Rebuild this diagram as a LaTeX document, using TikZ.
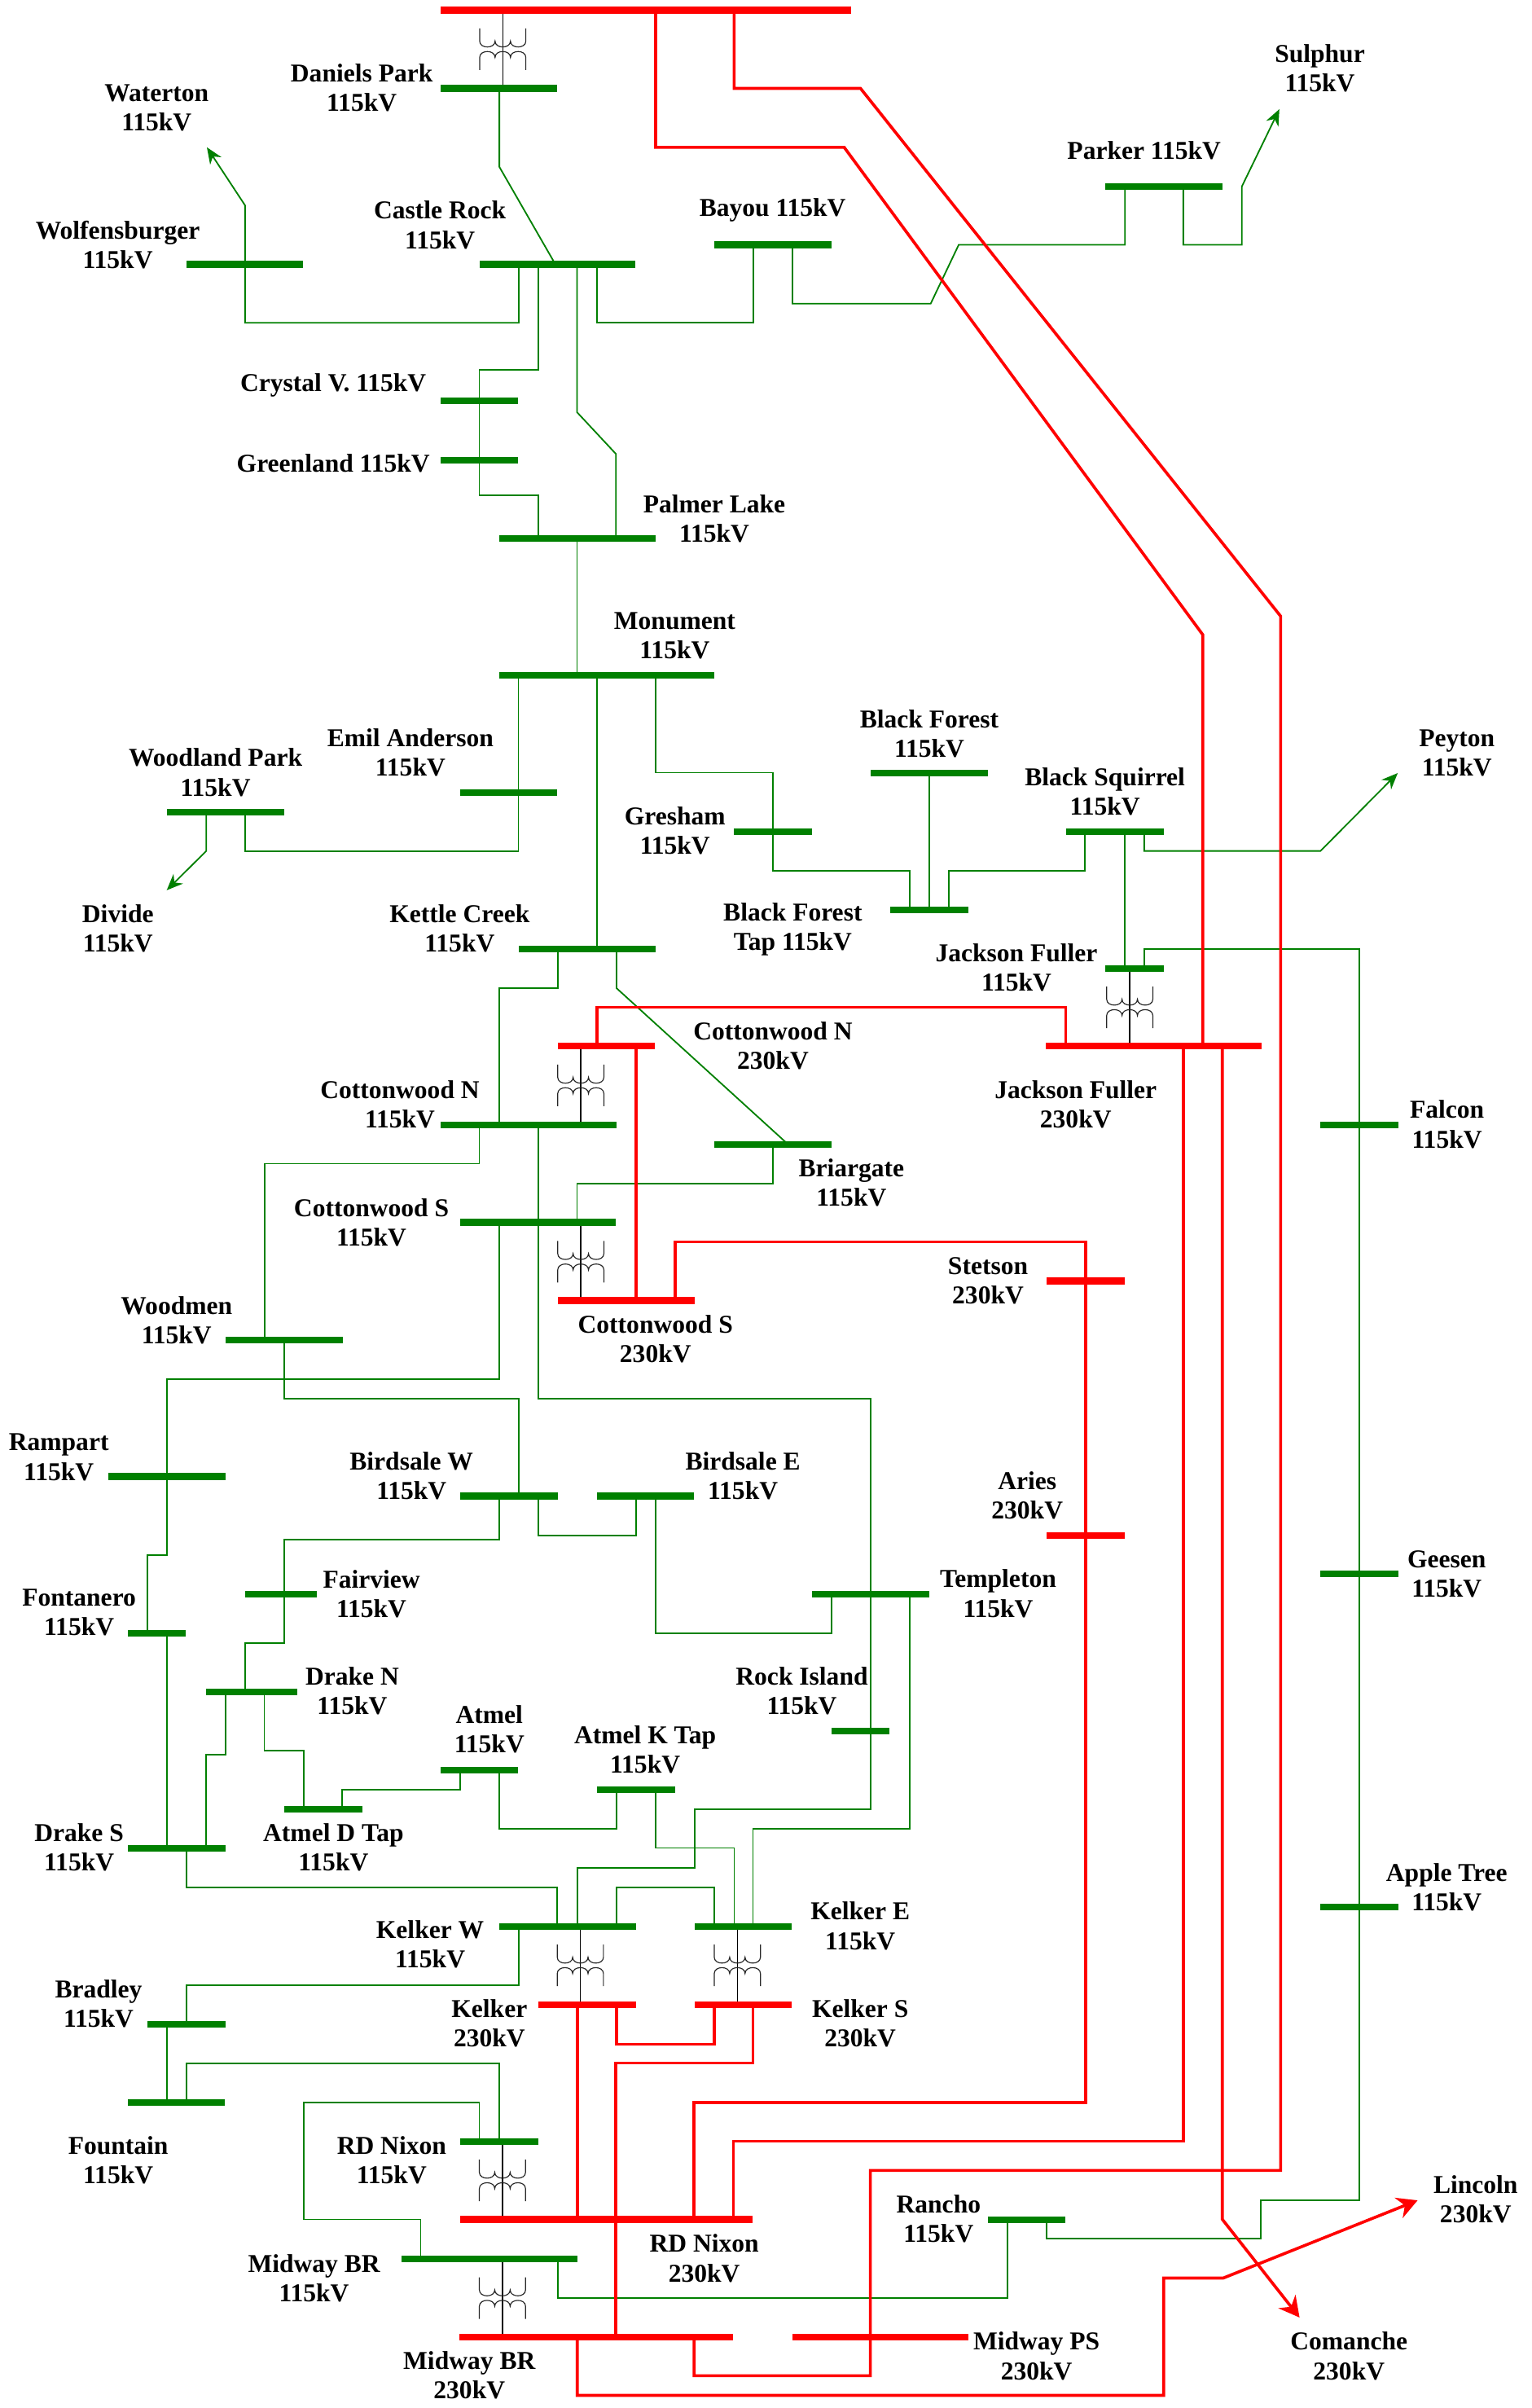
\documentclass[tikz,border=0pt]{standalone}
\usepackage{fontspec}
\setmainfont{Liberation Serif}
\usetikzlibrary{arrows.meta, backgrounds}
\definecolor{lvgreen}{RGB}{0,128,0}

\begin{document}
\begin{tikzpicture}[x=0.02cm, y=-0.02cm,
    bus115/.style={rectangle, fill=lvgreen, inner sep=0pt, minimum height=0.086cm, minimum width=#1*0.02cm},
    bus230/.style={rectangle, fill=red, inner sep=0pt, minimum height=0.086cm, minimum width=#1*0.02cm},
    ln115/.style={draw=lvgreen, line width=0.55pt},
    ln230/.style={draw=red, line width=1.1pt},
    xf/.style={draw=black, line width=0.4pt},
    coil/.style={draw=black!85, line width=0.35pt},
    lbl/.style={align=center, inner sep=0pt, font=\fontsize{9.5}{10.9}\selectfont\bfseries},
    tip115/.style={-{Stealth[length=6pt, width=5pt]}},
    tip230/.style={-{Stealth[length=7.5pt, width=8pt]}},
    xfmr/.pic={
        \draw[coil] (-15,-13.5) -- (-15,-5.3)
            .. controls (-15,-0.2) and (-5,-0.2) .. (-5,-5.3)
            .. controls (-5,-0.2) and (5,-0.2) .. (5,-5.3)
            .. controls (5,-0.2) and (15,-0.2) .. (15,-5.3) -- (15,-13.5);
        \draw[coil] (-15,13.5) -- (-15,5.3)
            .. controls (-15,0.2) and (-5,0.2) .. (-5,5.3)
            .. controls (-5,0.2) and (5,0.2) .. (5,5.3)
            .. controls (5,0.2) and (15,0.2) .. (15,5.3) -- (15,13.5);
    }]
    \useasboundingbox (0,0) rectangle (995.2,1564);

    \node[bus230=267] (dpk230) at (419.5,6.6) {};
    \node[bus230=63] (cn230) at (394,679.5) {};
    \node[bus230=140] (jf230) at (749.5,679.5) {};
    \node[bus230=89] (cs230) at (406.8,844.7) {};
    \node[bus230=51] (stetson) at (705.3,832) {};
    \node[bus230=51] (aries) at (705.3,997.2) {};
    \node[bus230=63.6] (kel230) at (381.6,1302) {};
    \node[bus230=63] (kels230) at (483,1302) {};
    \node[bus230=190.4] (rdn230) at (393.9,1441.5) {};
    \node[bus230=177.7] (mbr230) at (387.5,1517.8) {};
    \node[bus230=114] (mps230) at (572,1517.8) {};

    \node[bus115=76] (dpk) at (324,57.4) {};
    \node[bus115=76] (wolf) at (159,171.7) {};
    \node[bus115=101] (castle) at (362.3,171.7) {};
    \node[bus115=76] (bayou) at (502,159) {};
    \node[bus115=76] (parker) at (756.2,121.2) {};
    \node[bus115=50.5] (crystal) at (311.5,260.5) {};
    \node[bus115=50.5] (greenland) at (311.5,298.8) {};
    \node[bus115=101.4] (palmer) at (375.1,349.6) {};
    \node[bus115=139.7] (monument) at (394.2,438.4) {};
    \node[bus115=63] (emil) at (330.5,514.8) {};
    \node[bus115=76.3] (woodland) at (146.5,527.5) {};
    \node[bus115=76] (bforest) at (603.7,502.1) {};
    \node[bus115=63.5] (bsquirrel) at (724.5,540) {};
    \node[bus115=51] (gresham) at (502.1,540.2) {};
    \node[bus115=51] (bftap) at (603.7,590.9) {};
    \node[bus115=89] (kettle) at (381.4,616.3) {};
    \node[bus115=38.4] (jf115) at (737,628.9) {};
    \node[bus115=114.3] (cn115) at (343.4,730.5) {};
    \node[bus115=76] (briar) at (502,743.3) {};
    \node[bus115=101.5] (cs115) at (349.5,793.9) {};
    \node[bus115=50.5] (falcon) at (883,730.6) {};
    \node[bus115=76] (woodmen) at (184.6,870.4) {};
    \node[bus115=76] (rampart) at (108.5,959) {};
    \node[bus115=63.5] (bwest) at (330.5,971.7) {};
    \node[bus115=63] (beast) at (419.5,971.7) {};
    \node[bus115=51] (geesen) at (883.2,1022.4) {};
    \node[bus115=46.6] (fairview) at (182.5,1035.2) {};
    \node[bus115=76.4] (templeton) at (565.5,1035.2) {};
    \node[bus115=37.7] (fontanero) at (101.9,1060.7) {};
    \node[bus115=59] (draken) at (163.5,1098.7) {};
    \node[bus115=37.8] (rock) at (559.1,1124.2) {};
    \node[bus115=50.2] (atmel) at (311.4,1149.5) {};
    \node[bus115=50.6] (aktap) at (413.2,1162.3) {};
    \node[bus115=50.7] (adtap) at (210,1175) {};
    \node[bus115=63.6] (drakes) at (114.8,1200.4) {};
    \node[bus115=51] (apple) at (883.2,1238.4) {};
    \node[bus115=89.1] (kw115) at (368.9,1251.2) {};
    \node[bus115=63] (ke115) at (483,1251.2) {};
    \node[bus115=50.6] (bradley) at (121.3,1314.6) {};
    \node[bus115=62.8] (fountain) at (114.7,1365.5) {};
    \node[bus115=50.9] (rdn115) at (324.2,1390.8) {};
    \node[bus115=50.3] (rancho) at (667.1,1441.6) {};
    \node[bus115=114] (mbr115) at (318,1467) {};

    \coordinate (waterton) at (134.4,95.7);
    \coordinate (sulphur) at (831.1,70.9);
    \coordinate (divide) at (108.3,578.2);
    \coordinate (peyton) at (908,502.1);
    \coordinate (comanche) at (844.2,1505.2);
    \coordinate (lincoln) at (920.9,1429.1);

    \begin{scope}[on background layer]
        \draw[ln115] (324.4,0 |- dpk) -- (324.4,108.4) -- (360.8,0 |- castle);
        \draw[ln115, tip115] (337,0 |- castle) -- (337,209.7) -- (159.2,209.7) -- (159.2,133.4) -- (waterton);
        \draw[ln115] (349.7,0 |- castle) -- (349.7,240.2) -- (311.4,240.2) -- (311.4,321.9) -- (349.7,321.9) -- (349.7,0 |- palmer);
        \draw[ln115] (374.9,0 |- castle) -- (374.9,267.8) -- (400.1,294.8) -- (400.1,0 |- palmer);
        \draw[ln115] (387.9,0 |- castle) -- (387.9,209.7) -- (489.2,209.7) -- (489.2,0 |- bayou);
        \draw[ln115] (514.8,0 |- bayou) -- (514.8,197.2) -- (604.6,197.2) -- (622.8,159) -- (730.8,159) -- (730.8,0 |- parker);
        \draw[ln115, tip115] (768.7,0 |- parker) -- (768.7,159) -- (806.7,159) -- (806.7,121.2) -- (sulphur);
        \draw[ln115] (374.9,0 |- palmer) -- (374.9,0 |- monument);
        \draw[ln115] (336.8,0 |- monument) -- (336.8,552.7) -- (159.3,552.7) -- (159.3,0 |- woodland);
        \draw[ln115, tip115] (134,0 |- woodland) -- (134,552.7) -- (divide);
        \draw[ln115] (387.7,0 |- monument) -- (387.7,0 |- kettle);
        \draw[ln115] (425.9,0 |- monument) -- (425.9,501.8) -- (502.1,501.8) -- (502.1,565.4) -- (591.1,565.4) -- (591.1,0 |- bftap);
        \draw[ln115] (603.7,0 |- bforest) -- (603.7,0 |- bftap);
        \draw[ln115] (704.8,0 |- bsquirrel) -- (704.8,565.4) -- (616.2,565.4) -- (616.2,0 |- bftap);
        \draw[ln115] (730.7,0 |- bsquirrel) -- (730.7,0 |- jf115);
        \draw[ln115, tip115] (743.3,0 |- bsquirrel) -- (743.3,552.7) -- (857.8,552.7) -- (peyton);
        \draw[ln115] (743.3,0 |- jf115) -- (743.3,616.2) -- (882.9,616.2) -- (882.9,1429.1) -- (819.2,1429.1) -- (819.2,1454) -- (679.8,1454) -- (679.8,0 |- rancho);
        \draw[ln115] (362.4,0 |- kettle) -- (362.4,641.8) -- (324.3,641.8) -- (324.3,0 |- cn115);
        \draw[ln115] (400.5,0 |- kettle) -- (400.5,641.8) -- (512,0 |- briar);
        \draw[ln115] (502,0 |- briar) -- (502,768.6) -- (374.9,768.6) -- (374.9,0 |- cs115);
        \draw[ln115] (311.4,0 |- cn115) -- (311.4,755.8) -- (171.9,755.8) -- (171.9,0 |- woodmen);
        \draw[ln115] (349.7,0 |- cn115) -- (349.7,908.3) -- (565.5,908.3) -- (565.5,1175) -- (451.5,1175) -- (451.5,1213.1) -- (375,1213.1) -- (375,0 |- kw115);
        \draw[ln115] (324.4,0 |- cs115) -- (324.4,895.7) -- (108.4,895.7) -- (108.4,1010) -- (95.7,1010) -- (95.7,0 |- fontanero);
        \draw[ln115] (184.5,0 |- woodmen) -- (184.5,908.3) -- (337,908.3) -- (337,0 |- bwest);
        \draw[ln115] (349.7,0 |- bwest) -- (349.7,997.2) -- (413.1,997.2) -- (413.1,0 |- beast);
        \draw[ln115] (324.4,0 |- bwest) -- (324.4,999.8) -- (184.5,999.8) -- (184.5,1067.1) -- (159.1,1067.1) -- (159.1,0 |- draken);
        \draw[ln115] (425.8,0 |- beast) -- (425.8,1060.7) -- (540.1,1060.7) -- (540.1,0 |- templeton);
        \draw[ln115] (590.8,0 |- templeton) -- (590.8,1187.6) -- (489.1,1187.6) -- (489.1,0 |- ke115);
        \draw[ln115] (108.5,0 |- fontanero) -- (108.5,0 |- drakes);
        \draw[ln115] (146.6,0 |- draken) -- (146.6,1139.6) -- (134,1139.6) -- (134,0 |- drakes);
        \draw[ln115] (171.7,0 |- draken) -- (171.7,1136.8) -- (197.2,1136.8) -- (197.2,0 |- adtap);
        \draw[ln115] (298.8,0 |- atmel) -- (298.8,1162.3) -- (222.3,1162.3) -- (222.3,0 |- adtap);
        \draw[ln115] (324.3,0 |- atmel) -- (324.3,1187.6) -- (400.5,1187.6) -- (400.5,0 |- aktap);
        \draw[ln115] (426,0 |- aktap) -- (426,1200.2) -- (477,1200.2) -- (477,0 |- ke115);
        \draw[ln115] (121.1,0 |- drakes) -- (121.1,1225.7) -- (362,1225.7) -- (362,0 |- kw115);
        \draw[ln115] (400.5,0 |- kw115) -- (400.5,1225.7) -- (464,1225.7) -- (464,0 |- ke115);
        \draw[ln115] (336.9,0 |- kw115) -- (336.9,1289.2) -- (121.1,1289.2) -- (121.1,0 |- bradley);
        \draw[ln115] (108.3,0 |- bradley) -- (108.3,0 |- fountain);
        \draw[ln115] (121.1,0 |- fountain) -- (121.1,1340.2) -- (324.2,1340.2) -- (324.2,0 |- rdn115);
        \draw[ln115] (311.4,0 |- rdn115) -- (311.4,1365.5) -- (197.4,1365.5) -- (197.4,1441.5) -- (273.3,1441.5) -- (273.3,0 |- mbr115);
        \draw[ln115] (362.3,0 |- mbr115) -- (362.3,1492.4) -- (654.5,1492.4) -- (654.5,0 |- rancho);

        \draw[xf] (326.6,0 |- dpk230) -- (326.6,0 |- dpk);
        \draw[xf] (733.9,0 |- jf115) -- (733.9,0 |- jf230);
        \draw[xf] (377.3,0 |- cn230) -- (377.3,0 |- cn115);
        \draw[xf] (377.3,0 |- cs115) -- (377.3,0 |- cs230);
        \draw[xf] (377,0 |- kw115) -- (377,0 |- kel230);
        \draw[xf] (479,0 |- ke115) -- (479,0 |- kels230);
        \draw[xf] (326.4,0 |- rdn115) -- (326.4,0 |- rdn230);
        \draw[xf] (326.4,0 |- mbr115) -- (326.4,0 |- mbr230);

        \draw[ln230] (425.9,0 |- dpk230) -- (425.9,95.7) -- (548.4,95.7) -- (781.3,412.2) -- (781.3,0 |- jf230);
        \draw[ln230] (476.9,0 |- dpk230) -- (476.9,57.4) -- (559,57.4) -- (831.9,400.2) -- (831.9,1409.7) -- (565.4,1409.7) -- (565.4,1543) -- (450.9,1543) -- (450.9,0 |- mbr230);
        \draw[ln230] (387.7,0 |- cn230) -- (387.7,654.3) -- (692.3,654.3) -- (692.3,0 |- jf230);
        \draw[ln230] (413.1,0 |- cn230) -- (413.1,0 |- cs230);
        \draw[ln230] (438.6,0 |- cs230) -- (438.6,806.6) -- (705.2,806.6) -- (705.2,1365.5) -- (450.9,1365.5) -- (450.9,0 |- rdn230);
        \draw[ln230] (768.6,0 |- jf230) -- (768.6,1390.7) -- (476.4,1390.7) -- (476.4,0 |- rdn230);
        \draw[ln230, tip230] (794,0 |- jf230) -- (794,1441.4) -- (comanche);
        \draw[ln230] (375,0 |- kel230) -- (375,0 |- rdn230);
        \draw[ln230] (400.5,0 |- kel230) -- (400.5,1327.7) -- (464,1327.7) -- (464,0 |- kels230);
        \draw[ln230] (489.1,0 |- kels230) -- (489.1,1340) -- (400.1,1340) -- (400.1,0 |- mbr230);
        \draw[ln230, tip230] (375,0 |- mbr230) -- (375,1555.8) -- (755.9,1555.8) -- (755.9,1479.6) -- (794.6,1479.6) -- (lincoln);
    \end{scope}

    \pic at (326.6,32) {xfmr};
    \pic at (733.9,654.3) {xfmr};
    \pic at (377.3,705) {xfmr};
    \pic at (377.3,819.5) {xfmr};
    \pic at (377,1276.5) {xfmr};
    \pic at (479,1276.5) {xfmr};
    \pic at (326.4,1416.2) {xfmr};
    \pic at (326.4,1492.6) {xfmr};

    \node[lbl] (waterton-l) at (101.7,70) {Waterton\\115kV};
    \node[lbl] (dpk-l) at (235,57) {Daniels Park\\115kV};
    \node[lbl] (wolf-l) at (76.5,159) {Wolfensburger\\115kV};
    \node[lbl] (castle-l) at (285.8,146.2) {Castle Rock\\115kV};
    \node[lbl] (bayou-l) at (501.9,136.5) {Bayou 115kV};
    \node[lbl] (parker-l) at (743.2,98) {Parker 115kV};
    \node[lbl] (sulphur-l) at (857.4,44.5) {Sulphur\\115kV};
    \node[lbl] (crystal-l) at (216.5,250.4) {Crystal V. 115kV};
    \node[lbl] (greenland-l) at (216.5,301) {Greenland 115kV};
    \node[lbl] (palmer-l) at (464,336.8) {Palmer Lake\\115kV};
    \node[lbl] (monument-l) at (438.3,412.7) {Monument\\115kV};
    \node[lbl] (emil-l) at (266.6,488.9) {Emil Anderson\\115kV};
    \node[lbl] (woodland-l) at (140,501.7) {Woodland Park\\115kV};
    \node[lbl] (divide-l) at (76.6,603) {Divide\\115kV};
    \node[lbl] (kettle-l) at (298.6,603) {Kettle Creek\\115kV};
    \node[lbl] (bforest-l) at (603.7,476.4) {Black Forest\\115kV};
    \node[lbl] (gresham-l) at (438.5,539.6) {Gresham\\115kV};
    \node[lbl] (bftap-l) at (515,603.5) {Black Forest\\Tap 115kV};
    \node[lbl] (bsquirrel-l) at (717.8,514) {Black Squirrel\\115kV};
    \node[lbl] (peyton-l) at (946.4,489) {Peyton\\115kV};
    \node[lbl] (jf115-l) at (660.3,628.5) {Jackson Fuller\\115kV};
    \node[lbl] (cn230-l) at (502.1,679.2) {Cottonwood N\\230kV};
    \node[lbl] (jf230-l) at (698.8,717.3) {Jackson Fuller\\230kV};
    \node[lbl] (cn115-l) at (259.8,717.4) {Cottonwood N\\115kV};
    \node[lbl] (briar-l) at (553.1,768.2) {Briargate\\115kV};
    \node[lbl] (falcon-l) at (940,730.3) {Falcon\\115kV};
    \node[lbl] (cs115-l) at (241.3,794.2) {Cottonwood S\\115kV};
    \node[lbl] (cs230-l) at (425.8,869.7) {Cottonwood S\\230kV};
    \node[lbl] (stetson-l) at (641.8,832) {Stetson\\230kV};
    \node[lbl] (woodmen-l) at (114.7,857.5) {Woodmen\\115kV};
    \node[lbl] (rampart-l) at (38.2,946.5) {Rampart\\115kV};
    \node[lbl] (bwest-l) at (267.3,958.5) {Birdsale W\\115kV};
    \node[lbl] (beast-l) at (482.6,958.5) {Birdsale E\\115kV};
    \node[lbl] (aries-l) at (667.3,971.4) {Aries\\230kV};
    \node[lbl] (geesen-l) at (939.8,1022.3) {Geesen\\115kV};
    \node[lbl] (fairview-l) at (241.3,1035.3) {Fairview\\115kV};
    \node[lbl] (templeton-l) at (648.4,1035) {Templeton\\115kV};
    \node[lbl] (fontanero-l) at (51.4,1047.4) {Fontanero\\115kV};
    \node[lbl] (draken-l) at (228.8,1098.4) {Drake N\\115kV};
    \node[lbl] (rock-l) at (520.9,1098.3) {Rock Island\\115kV};
    \node[lbl] (atmel-l) at (317.9,1123.3) {Atmel\\115kV};
    \node[lbl] (aktap-l) at (419.1,1136.3) {Atmel K Tap\\115kV};
    \node[lbl] (drakes-l) at (51.4,1199.9) {Drake S\\115kV};
    \node[lbl] (adtap-l) at (216.6,1200) {Atmel D Tap\\115kV};
    \node[lbl] (apple-l) at (939.8,1225.6) {Apple Tree\\115kV};
    \node[lbl] (kw115-l) at (279.4,1263) {Kelker W\\115kV};
    \node[lbl] (ke115-l) at (558.8,1250.9) {Kelker E\\115kV};
    \node[lbl] (bradley-l) at (64,1301.5) {Bradley\\115kV};
    \node[lbl] (kel230-l) at (317.9,1314) {Kelker\\230kV};
    \node[lbl] (kels230-l) at (558.8,1314) {Kelker S\\230kV};
    \node[lbl] (fountain-l) at (76.8,1403) {Fountain\\115kV};
    \node[lbl] (rdn115-l) at (254.4,1403) {RD Nixon\\115kV};
    \node[lbl] (rancho-l) at (609.7,1441) {Rancho\\115kV};
    \node[lbl] (lincoln-l) at (958.6,1428.3) {Lincoln\\230kV};
    \node[lbl] (rdn230-l) at (457.5,1466.8) {RD Nixon\\230kV};
    \node[lbl] (mbr115-l) at (204,1479.6) {Midway BR\\115kV};
    \node[lbl] (mbr230-l) at (304.9,1542.8) {Midway BR\\230kV};
    \node[lbl] (mps230-l) at (673.3,1530.3) {Midway PS\\230kV};
    \node[lbl] (comanche-l) at (876.3,1530.3) {Comanche\\230kV};
\end{tikzpicture}
\end{document}
